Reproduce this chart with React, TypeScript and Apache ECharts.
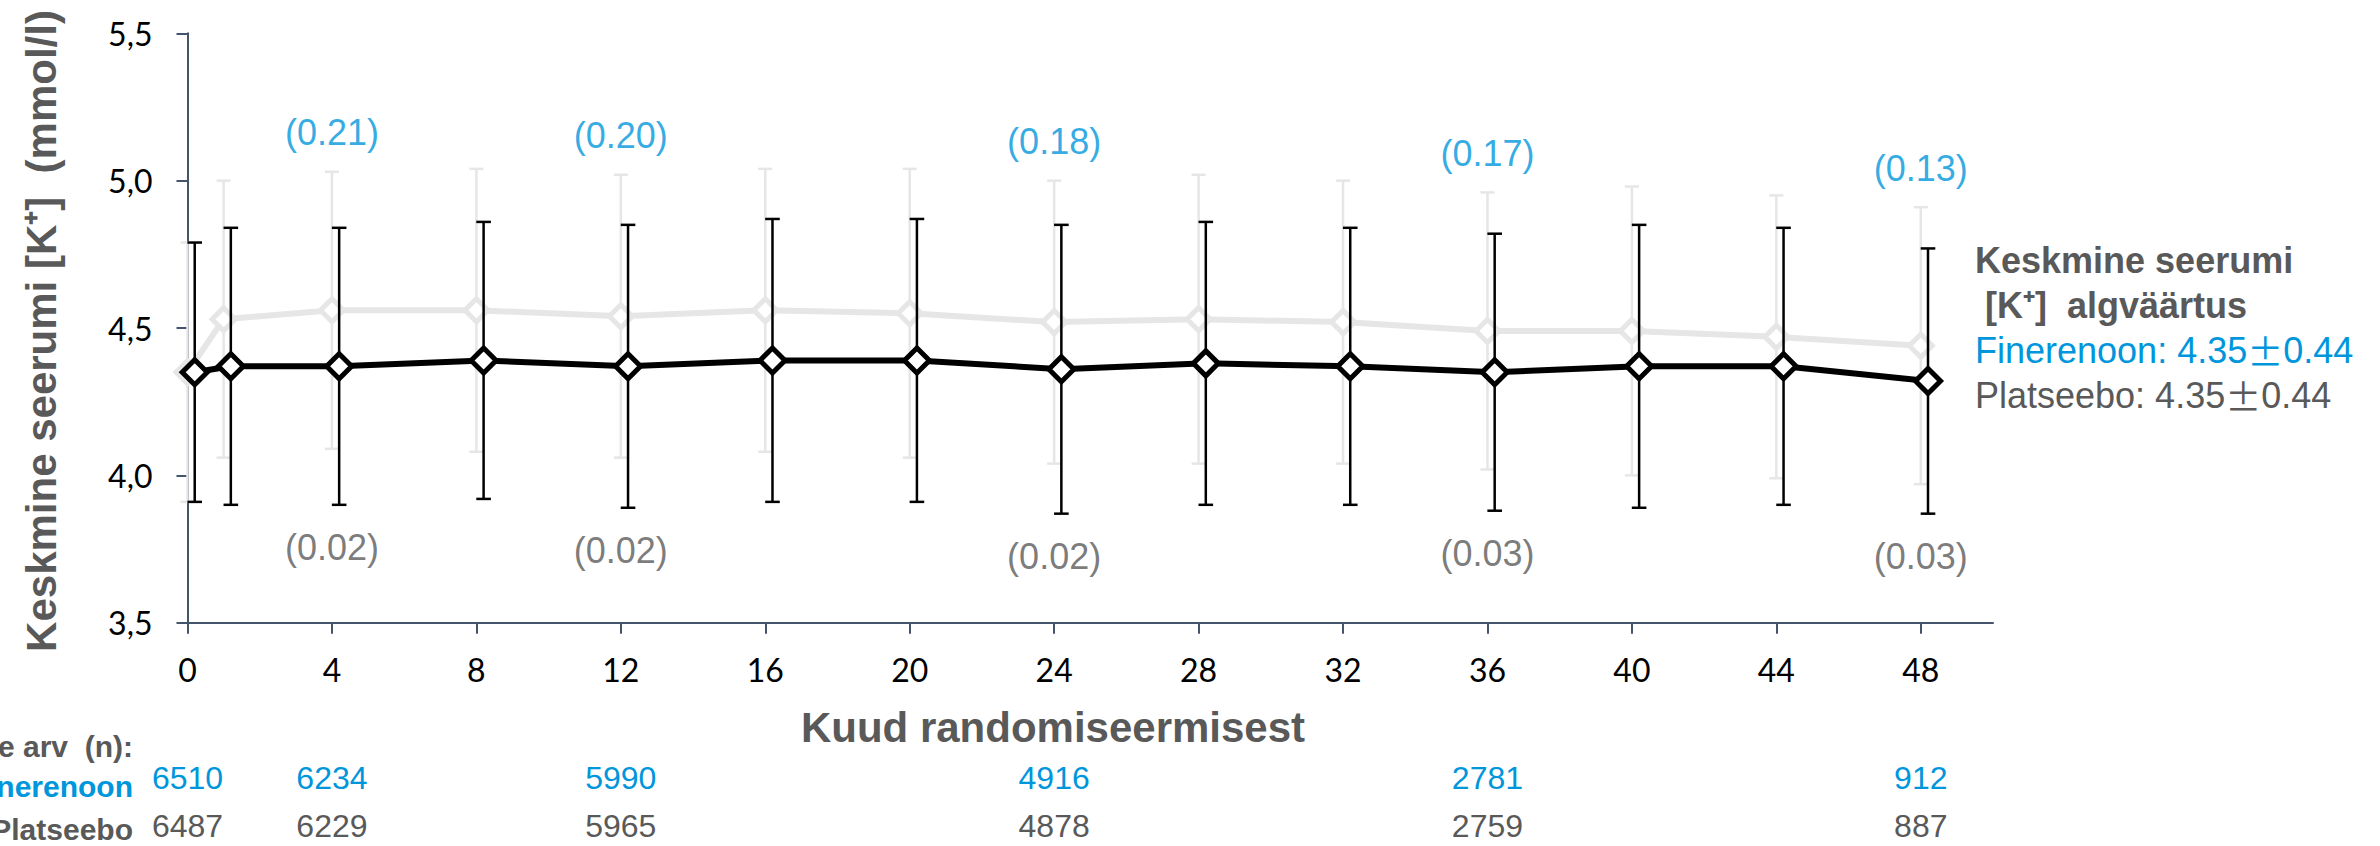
import { useEffect, useRef } from 'react';
import * as echarts from 'echarts';

// Months after randomisation at which serum potassium was measured
const months = [0, 1, 4, 8, 12, 16, 20, 24, 28, 32, 36, 40, 44, 48];

// Finerenone arm: mean and mean ± SD (mmol/l)
const fineMean = [4.35, 4.53, 4.56, 4.56, 4.54, 4.56, 4.55, 4.52, 4.53, 4.52, 4.49, 4.49, 4.47, 4.44];
const fineUpper = [4.79, 5.0, 5.03, 5.04, 5.02, 5.04, 5.04, 5.0, 5.02, 5.0, 4.96, 4.98, 4.95, 4.91];
const fineLower = [3.91, 4.06, 4.09, 4.08, 4.06, 4.08, 4.06, 4.04, 4.04, 4.04, 4.02, 4.0, 3.99, 3.97];

// Placebo arm: mean and mean ± SD (mmol/l)
const placeboMean = [4.35, 4.37, 4.37, 4.39, 4.37, 4.39, 4.39, 4.36, 4.38, 4.37, 4.35, 4.37, 4.37, 4.32];
const placeboUpper = [4.79, 4.84, 4.84, 4.86, 4.85, 4.87, 4.87, 4.85, 4.86, 4.84, 4.82, 4.85, 4.84, 4.77];
const placeboLower = [3.91, 3.9, 3.9, 3.92, 3.89, 3.91, 3.91, 3.87, 3.9, 3.9, 3.88, 3.89, 3.9, 3.87];

// Mean change from baseline, annotated yearly
const changeMonths = [4, 12, 24, 36, 48];
const fineChange = [0.21, 0.2, 0.18, 0.17, 0.13];
const placeboChange = [0.02, 0.02, 0.02, 0.03, 0.03];

// Number of patients with a measurement
const countMonths = [0, 4, 12, 24, 36, 48];
const fineCount = [6510, 6234, 5990, 4916, 2781, 912];
const placeboCount = [6487, 6229, 5965, 4878, 2759, 887];

// Axis ticks
const monthTicks = [0, 4, 8, 12, 16, 20, 24, 28, 32, 36, 40, 44, 48];

const BLUE = '#0096DC';
const GREY_TEXT = '#595959';
const LIGHT = '#E6E6E6';
const AXIS = '#44546A';
const FONT = '"Liberation Sans", Arial, sans-serif';
const TICK_FONT = 'Lato, "Liberation Sans", sans-serif';
// placebo markers are dodged slightly to the right so both arms stay visible
const DODGE = 0.2;

function errorBars(color: string, width: number, half: number) {
  return (params: any, api: any) => {
    const x = api.value(0);
    const lo = api.coord([x, api.value(1)]);
    const hi = api.coord([x, api.value(2)]);
    const style = { stroke: color, lineWidth: width };
    return {
      type: 'group',
      children: [
        { type: 'line', shape: { x1: hi[0], y1: hi[1], x2: lo[0], y2: lo[1] }, style },
        { type: 'line', shape: { x1: hi[0] - half, y1: hi[1], x2: hi[0] + half, y2: hi[1] }, style },
        { type: 'line', shape: { x1: lo[0] - half, y1: lo[1], x2: lo[0] + half, y2: lo[1] }, style },
      ],
    };
  };
}

export default function App() {
  const ref = useRef<HTMLDivElement>(null);

  useEffect(() => {
    if (!ref.current) return;
    const chart = echarts.init(ref.current, undefined, { renderer: 'svg' });

    const fineBars = months.map((m, i) => [m, fineLower[i], fineUpper[i]]);
    const placeboBars = months.map((m, i) => [m + DODGE, placeboLower[i], placeboUpper[i]]);
    const fineLine = months.map((m, i) => [m, fineMean[i]]);
    const placeboLine = months.map((m, i) => [m + DODGE, placeboMean[i]]);
    const fineLabels = changeMonths.map((m, i) => [m, fineUpper[months.indexOf(m)], fineChange[i]]);
    const placeboLabels = changeMonths.map((m, i) => [m, placeboLower[months.indexOf(m)], placeboChange[i]]);

    const countAxis = (counts: number[], color: string, margin: number) => ({
      type: 'value',
      min: 0,
      max: 50,
      interval: 4,
      position: 'bottom',
      offset: 0,
      axisLine: { show: false },
      axisTick: { show: false },
      splitLine: { show: false },
      axisLabel: {
        customValues: countMonths,
        margin,
        color,
        fontSize: 32,
        fontFamily: FONT,
        formatter: (v: number) => {
          const k = countMonths.indexOf(v);
          return k >= 0 ? String(counts[k]) : '';
        },
      },
    });

    const pmText = (label: string, value: string, sd: string) => `${label}: ${value}{pm|±}${sd}`;

    chart.setOption({
      animation: false,
      textStyle: { fontFamily: FONT },
      grid: { left: 187.5, top: 33.3, right: 387, bottom: 223.3, containLabel: false, outerBoundsMode: 'none' },
      xAxis: [
        {
          type: 'value',
          min: 0,
          max: 50,
          interval: 4,
          position: 'bottom',
          axisLine: { show: true, onZero: false, lineStyle: { color: AXIS, width: 2 } },
          axisTick: { show: true, length: 11, customValues: monthTicks, lineStyle: { color: AXIS, width: 2 } },
          splitLine: { show: false },
          axisLabel: {
            customValues: monthTicks,
            margin: 31,
            color: '#000',
            fontSize: 32,
            fontFamily: TICK_FONT,
            formatter: (v: number) => (monthTicks.indexOf(v) >= 0 ? String(v) : ''),
          },
        },
        countAxis(fineCount, BLUE, 139),
        countAxis(placeboCount, GREY_TEXT, 187),
      ],
      yAxis: {
        type: 'value',
        min: 3.5,
        max: 5.5,
        interval: 0.5,
        axisLine: { show: true, lineStyle: { color: AXIS, width: 2 } },
        axisTick: { show: true, length: 11, lineStyle: { color: AXIS, width: 2 } },
        splitLine: { show: false },
        axisLabel: {
          margin: 35,
          color: '#000',
          fontSize: 32,
          fontFamily: TICK_FONT,
          formatter: (v: number) => v.toFixed(1).replace('.', ','),
        },
      },
      series: [
        {
          name: 'Finerenoon SD',
          type: 'custom',
          xAxisIndex: 0,
          renderItem: errorBars(LIGHT, 2.5, 7),
          encode: { x: 0, y: [1, 2] },
          data: fineBars,
          silent: true,
          z: 2,
        },
        {
          name: 'Finerenoon',
          type: 'line',
          xAxisIndex: 0,
          data: fineLine,
          symbol: 'diamond',
          symbolSize: 23,
          lineStyle: { color: LIGHT, width: 6 },
          itemStyle: { color: '#fff', borderColor: LIGHT, borderWidth: 5 },
          z: 3,
        },
        {
          name: 'Platseebo SD',
          type: 'custom',
          xAxisIndex: 0,
          renderItem: errorBars('#000', 2.5, 7.3),
          encode: { x: 0, y: [1, 2] },
          data: placeboBars,
          silent: true,
          z: 4,
        },
        {
          name: 'Platseebo',
          type: 'line',
          xAxisIndex: 0,
          data: placeboLine,
          symbol: 'diamond',
          symbolSize: 25,
          lineStyle: { color: '#000', width: 6 },
          itemStyle: { color: '#fff', borderColor: '#000', borderWidth: 5 },
          z: 5,
        },
        {
          name: 'Finerenoon muutus',
          type: 'scatter',
          xAxisIndex: 0,
          data: fineLabels,
          symbolSize: 0,
          itemStyle: { color: 'rgba(0,0,0,0)' },
          silent: true,
          z: 6,
          label: {
            show: true,
            position: 'inside',
            offset: [0, -39],
            color: BLUE,
            fontSize: 36,
            fontFamily: FONT,
            formatter: (p: any) => `(${p.value[2].toFixed(2)})`,
          },
        },
        {
          name: 'Platseebo muutus',
          type: 'scatter',
          xAxisIndex: 0,
          data: placeboLabels,
          symbolSize: 0,
          itemStyle: { color: 'rgba(0,0,0,0)' },
          silent: true,
          z: 6,
          label: {
            show: true,
            position: 'inside',
            offset: [0, 43],
            color: GREY_TEXT,
            fontSize: 36,
            fontFamily: FONT,
            formatter: (p: any) => `(${p.value[2].toFixed(2)})`,
          },
        },
      ],
      graphic: [
        {
          type: 'text',
          x: 41,
          y: 331,
          rotation: Math.PI / 2,
          style: {
            text: 'Keskmine seerumi [K⁺]  (mmol/l)',
            fontSize: 42,
            fontWeight: 'bold',
            fontFamily: FONT,
            fill: GREY_TEXT,
            align: 'center',
            verticalAlign: 'middle',
          },
        },
        {
          type: 'text',
          x: 1053,
          y: 727,
          style: {
            text: 'Kuud randomiseermisest',
            fontSize: 42,
            fontWeight: 'bold',
            fontFamily: FONT,
            fill: GREY_TEXT,
            align: 'center',
            verticalAlign: 'middle',
          },
        },
        {
          type: 'text',
          x: 1975,
          y: 260,
          style: { text: 'Keskmine seerumi', fontSize: 36, fontWeight: 'bold', fontFamily: FONT, fill: GREY_TEXT, align: 'left', verticalAlign: 'middle' },
        },
        {
          type: 'text',
          x: 1975,
          y: 305,
          style: { text: ' [K⁺]  algväärtus', fontSize: 36, fontWeight: 'bold', fontFamily: FONT, fill: GREY_TEXT, align: 'left', verticalAlign: 'middle' },
        },
        {
          type: 'text',
          x: 1975,
          y: 350,
          style: {
            text: pmText('Finerenoon', '4.35', '0.44'),
            fontSize: 36,
            fontFamily: FONT,
            fill: BLUE,
            align: 'left',
            verticalAlign: 'middle',
            rich: { pm: { fontSize: 36, fontFamily: '"Noto Sans CJK SC", sans-serif', fill: BLUE } },
          },
        },
        {
          type: 'text',
          x: 1975,
          y: 395,
          style: {
            text: pmText('Platseebo', '4.35', '0.44'),
            fontSize: 36,
            fontFamily: FONT,
            fill: GREY_TEXT,
            align: 'left',
            verticalAlign: 'middle',
            rich: { pm: { fontSize: 36, fontFamily: '"Noto Sans CJK SC", sans-serif', fill: GREY_TEXT } },
          },
        },
        {
          type: 'text',
          x: 133,
          y: 746,
          style: { text: 'Patsientide arv  (n):', fontSize: 30, fontWeight: 'bold', fontFamily: FONT, fill: GREY_TEXT, align: 'right', verticalAlign: 'middle' },
        },
        {
          type: 'text',
          x: 133,
          y: 786,
          style: { text: 'Finerenoon', fontSize: 30, fontWeight: 'bold', fontFamily: FONT, fill: BLUE, align: 'right', verticalAlign: 'middle' },
        },
        {
          type: 'text',
          x: 133,
          y: 829,
          style: { text: 'Platseebo', fontSize: 30, fontWeight: 'bold', fontFamily: FONT, fill: GREY_TEXT, align: 'right', verticalAlign: 'middle' },
        },
      ],
    });

    return () => chart.dispose();
  }, []);

  return <div ref={ref} style={{ position: 'absolute', left: 0, top: 0, width: 2380, height: 846 }} />;
}
